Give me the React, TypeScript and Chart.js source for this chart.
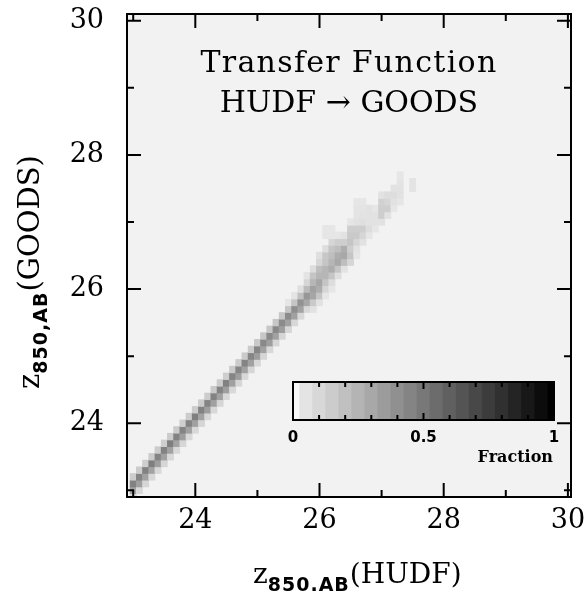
import React, { useEffect, useRef } from 'react';
import { Chart, registerables } from 'chart.js';

Chart.register(...registerables);

// ---- axes ----
const xRange = [22.9, 30.05];
const yRange = [22.9, 30.1];
const xMajorTicks = [24, 26, 28, 30];
const xMinorTicks = [23, 25, 27, 29];
const yMajorTicks = [24, 26, 28, 30];
const yMinorTicks = [23, 25, 27, 29];
const binSize = 0.1;

// ---- transfer-function cells: one column per HUDF magnitude bin ----
const columnCenters = [
  23.0, 23.1, 23.2, 23.3, 23.4, 23.5, 23.6, 23.7, 23.8, 23.9,
  24.0, 24.1, 24.2, 24.3, 24.4, 24.5, 24.6, 24.7, 24.8, 24.9,
  25.0, 25.1, 25.2, 25.3, 25.4, 25.5, 25.6, 25.7, 25.8, 25.9,
  26.0, 26.1, 26.2, 26.3, 26.4, 26.5, 26.6, 26.7, 26.8, 26.9,
  27.0, 27.1, 27.2, 27.3, 27.5,
];
// GOODS magnitude (bin centre) of the lowest cell in each column
const columnFirstRow = [
  22.9, 23.0, 23.1, 23.2, 23.3, 23.4, 23.5, 23.6, 23.7, 23.8,
  23.9, 24.0, 24.1, 24.2, 24.3, 24.4, 24.5, 24.6, 24.7, 24.8,
  24.9, 25.0, 25.1, 25.2, 25.3, 25.4, 25.5, 25.6, 25.7, 25.7,
  25.8, 25.9, 26.0, 26.2, 26.3, 26.4, 26.5, 26.7, 26.8, 26.9,
  27.0, 27.1, 27.2, 27.3, 27.5,
];
// fractions, from the lowest cell upwards
const columnFractions = [
  [0.10, 0.33, 0.46, 0.15],
  [0.10, 0.34, 0.45, 0.15],
  [0.11, 0.33, 0.46, 0.14],
  [0.10, 0.32, 0.47, 0.15],
  [0.10, 0.34, 0.45, 0.15],
  [0.11, 0.33, 0.46, 0.14],
  [0.10, 0.33, 0.47, 0.15],
  [0.10, 0.32, 0.46, 0.16],
  [0.11, 0.34, 0.45, 0.14],
  [0.10, 0.33, 0.46, 0.15],
  [0.10, 0.33, 0.47, 0.15],
  [0.11, 0.32, 0.46, 0.15],
  [0.10, 0.34, 0.45, 0.15],
  [0.10, 0.33, 0.46, 0.16],
  [0.11, 0.33, 0.45, 0.15],
  [0.10, 0.34, 0.46, 0.14],
  [0.10, 0.33, 0.45, 0.16],
  [0.11, 0.34, 0.44, 0.15],
  [0.10, 0.33, 0.45, 0.16],
  [0.11, 0.33, 0.44, 0.16],
  [0.10, 0.34, 0.44, 0.16],
  [0.11, 0.33, 0.43, 0.17],
  [0.10, 0.34, 0.43, 0.17],
  [0.11, 0.33, 0.43, 0.17],
  [0.11, 0.34, 0.42, 0.17],
  [0.11, 0.33, 0.42, 0.18, 0.04],
  [0.10, 0.33, 0.41, 0.18, 0.05],
  [0.10, 0.32, 0.39, 0.20, 0.07],
  [0.10, 0.30, 0.37, 0.22, 0.11, 0.05],
  [0.06, 0.16, 0.31, 0.33, 0.24, 0.18, 0.08],
  [0.06, 0.18, 0.28, 0.31, 0.24, 0.21, 0.11, 0.07],
  [0.04, 0.11, 0.18, 0.24, 0.24, 0.18, 0.17, 0.08, 0, 0.04, 0.04],
  [0.04, 0.08, 0.18, 0.28, 0.24, 0.21, 0.18, 0.11, 0.04, 0.04],
  [0.07, 0.18, 0.30, 0.28, 0.21, 0.14, 0.04],
  [0.06, 0.21, 0.30, 0.28, 0.14, 0.06],
  [0.11, 0.18, 0.14, 0.18, 0.16, 0.14, 0.04],
  [0.04, 0.06, 0.11, 0.16, 0.14, 0.06, 0.05, 0.05, 0.04],
  [0.06, 0.11, 0.14, 0.07, 0.06, 0.05, 0.04],
  [0.04, 0.08, 0.06, 0.06, 0.06],
  [0.04, 0.06, 0.06, 0.04],
  [0.06, 0.14, 0.14, 0.13, 0.06],
  [0.06, 0.14, 0.11, 0.08],
  [0.04, 0.06, 0.08, 0.06],
  [0.04, 0.06, 0.06, 0.05, 0.04],
  [0.05, 0.05],
];

// ---- colour bar ----
const colorbarLevels = [
  0, 0.05, 0.1, 0.15, 0.2, 0.25, 0.3, 0.35, 0.4, 0.45, 0.5,
  0.55, 0.6, 0.65, 0.7, 0.75, 0.8, 0.85, 0.9, 0.95, 1,
];
const colorbarTickMarks = [0.1, 0.2, 0.3, 0.4, 0.5, 0.6, 0.7, 0.8, 0.9];
const colorbarLabels = [0, 0.5, 1];

const PLOT_BG = '#f2f2f2';
const shade = (f: number) => {
  if (f <= 0) return '#f9f9f9';
  const g = Math.round(240 * (1 - f));
  return `rgb(${g},${g},${g})`;
};

const framePlugin = {
  id: 'frame',
  beforeDatasetsDraw(chart: any) {
    const { ctx, chartArea: a } = chart;
    ctx.save();
    ctx.fillStyle = PLOT_BG;
    ctx.fillRect(a.left, a.top, a.right - a.left, a.bottom - a.top);
    ctx.restore();
  },
  afterDatasetsDraw(chart: any) {
    const { ctx, chartArea: a, scales } = chart;
    const { x, y } = scales;
    ctx.save();
    ctx.strokeStyle = '#000';
    ctx.lineWidth = 2;
    ctx.lineCap = 'butt';
    const vtick = (v: number, len: number) => {
      const px = x.getPixelForValue(v);
      ctx.beginPath();
      ctx.moveTo(px, a.bottom); ctx.lineTo(px, a.bottom - len);
      ctx.moveTo(px, a.top); ctx.lineTo(px, a.top + len);
      ctx.stroke();
    };
    const htick = (v: number, len: number) => {
      const py = y.getPixelForValue(v);
      ctx.beginPath();
      ctx.moveTo(a.left, py); ctx.lineTo(a.left + len, py);
      ctx.moveTo(a.right, py); ctx.lineTo(a.right - len, py);
      ctx.stroke();
    };
    xMajorTicks.forEach((v) => vtick(v, 14));
    xMinorTicks.forEach((v) => vtick(v, 7));
    yMajorTicks.forEach((v) => htick(v, 14));
    yMinorTicks.forEach((v) => htick(v, 7));
    ctx.strokeRect(a.left, a.top, a.right - a.left, a.bottom - a.top);
    ctx.restore();
  },
};

const colorbarPlugin = {
  id: 'cbframe',
  afterDatasetsDraw(chart: any) {
    const { ctx, chartArea: a, scales } = chart;
    ctx.save();
    ctx.strokeStyle = '#000';
    ctx.lineWidth = 2;
    colorbarTickMarks.forEach((v) => {
      const px = scales.x.getPixelForValue(v);
      const len = v === 0.5 ? 7 : 5;
      ctx.beginPath();
      ctx.moveTo(px, a.top); ctx.lineTo(px, a.top + len);
      ctx.moveTo(px, a.bottom); ctx.lineTo(px, a.bottom - len);
      ctx.stroke();
    });
    ctx.strokeRect(a.left, a.top, a.right - a.left, a.bottom - a.top);
    ctx.restore();
  },
};

export default function App() {
  const mainRef = useRef<HTMLCanvasElement>(null);
  const cbRef = useRef<HTMLCanvasElement>(null);

  useEffect(() => {
    const cells: any[] = [];
    const colors: string[] = [];
    columnCenters.forEach((cx, i) => {
      columnFractions[i].forEach((f, j) => {
        if (f <= 0) return;
        const yc = Math.round((columnFirstRow[i] + j * binSize) * 10) / 10;
        cells.push({ x: cx, y: [yc - binSize / 2, yc + binSize / 2] });
        colors.push(shade(f));
      });
    });

    const tickFont = { family: 'DejaVu Serif', size: 27 };
    const main = new Chart(mainRef.current!, {
      type: 'bar',
      data: {
        datasets: [
          {
            data: cells,
            backgroundColor: colors,
            borderWidth: 0,
            barPercentage: 1,
            categoryPercentage: 1,
            clip: 0,
          } as any,
        ],
      },
      options: {
        animation: false,
        responsive: false,
        devicePixelRatio: 1,
        layout: { padding: { left: 0, top: 14, right: 15, bottom: 0 } },
        plugins: { legend: { display: false }, tooltip: { enabled: false } },
        scales: {
          x: {
            type: 'linear',
            min: xRange[0],
            max: xRange[1],
            offset: false,
            grid: { display: false, drawTicks: false },
            border: { display: false },
            afterBuildTicks: (s: any) => {
              s.ticks = xMajorTicks.map((v) => ({ value: v }));
            },
            afterFit: (s: any) => {
              s.height = 100;
              s.paddingLeft = 0;
              s.paddingRight = 0;
            },
            ticks: {
              font: tickFont,
              color: '#000',
              padding: 8,
              maxRotation: 0,
              autoSkip: false,
              callback: (v: any) => String(v),
            },
          },
          y: {
            type: 'linear',
            min: yRange[0],
            max: yRange[1],
            beginAtZero: false,
            grid: { display: false, drawTicks: false },
            border: { display: false },
            afterBuildTicks: (s: any) => {
              s.ticks = yMajorTicks.map((v) => ({ value: v }));
            },
            afterFit: (s: any) => {
              s.width = 127;
              s.paddingTop = 0;
              s.paddingBottom = 0;
            },
            ticks: {
              font: tickFont,
              color: '#000',
              padding: 23,
              autoSkip: false,
              callback: (v: any) => String(v),
            },
          },
        },
      } as any,
      plugins: [framePlugin],
    });

    const cb = new Chart(cbRef.current!, {
      type: 'bar',
      data: {
        datasets: [
          {
            data: colorbarLevels.map((v) => ({ x: v, y: [0, 1] })),
            backgroundColor: colorbarLevels.map(shade),
            borderWidth: 0,
            barPercentage: 1,
            categoryPercentage: 1,
            clip: 0,
          } as any,
        ],
      },
      options: {
        animation: false,
        responsive: false,
        devicePixelRatio: 1,
        layout: { padding: { left: 10, top: 10, right: 19, bottom: 0 } },
        plugins: { legend: { display: false }, tooltip: { enabled: false } },
        scales: {
          x: {
            type: 'linear',
            min: 0,
            max: 1,
            offset: false,
            grid: { display: false, drawTicks: false },
            border: { display: false },
            afterBuildTicks: (s: any) => {
              s.ticks = colorbarLabels.map((v) => ({ value: v }));
            },
            afterFit: (s: any) => {
              s.height = 47;
              s.paddingLeft = 0;
              s.paddingRight = 0;
            },
            ticks: {
              font: { family: 'DejaVu Sans', size: 15, weight: 'bold' },
              color: '#000',
              padding: 9,
              maxRotation: 0,
              autoSkip: false,
              callback: (v: any) => String(v),
            },
          },
          y: { type: 'linear', min: 0, max: 1, display: false },
        },
      } as any,
      plugins: [colorbarPlugin],
    });

    return () => {
      main.destroy();
      cb.destroy();
    };
  }, []);

  const serif = "'DejaVu Serif', serif";
  const subStyle: React.CSSProperties = {
    fontFamily: "'DejaVu Sans', sans-serif",
    fontWeight: 'bold',
    fontSize: 19,
    position: 'relative',
    top: 8,
    letterSpacing: 1,
  };

  return (
    <div style={{ position: 'absolute', left: 0, top: 0, width: 586, height: 597, background: '#fff', overflow: 'hidden' }}>
      <canvas ref={mainRef} width={586} height={597} style={{ position: 'absolute', left: 0, top: 0, width: 586, height: 597 }} />
      <canvas ref={cbRef} width={290} height={95} style={{ position: 'absolute', left: 283, top: 372, width: 290, height: 95 }} />
      <div style={{ position: 'absolute', left: 127, width: 444, top: 47, textAlign: 'center', fontFamily: serif, fontSize: 30, lineHeight: '30px', letterSpacing: 1.3, color: '#000', whiteSpace: 'nowrap' }}>
        Transfer Function
      </div>
      <div style={{ position: 'absolute', left: 127, width: 444, top: 87, textAlign: 'center', fontFamily: serif, fontSize: 30, lineHeight: '30px', color: '#000', whiteSpace: 'nowrap' }}>
        HUDF → GOODS
      </div>
      <div style={{ position: 'absolute', left: 253, top: 560, fontFamily: serif, fontSize: 28, lineHeight: '28px', color: '#000', whiteSpace: 'nowrap' }}>
        z<span style={subStyle}>850.AB</span>(HUDF)
      </div>
      <div style={{ position: 'absolute', left: 29 - 170, top: 272 - 14, width: 340, height: 28, textAlign: 'center', transform: 'rotate(-90deg)', transformOrigin: '50% 50%', fontFamily: serif, fontSize: 29, lineHeight: '28px', color: '#000', whiteSpace: 'nowrap' }}>
        z<span style={subStyle}>850,AB</span>(GOODS)
      </div>
      <div style={{ position: 'absolute', left: 440, width: 113, top: 447, textAlign: 'right', fontFamily: serif, fontWeight: 'bold', fontSize: 16, lineHeight: '20px', color: '#000', whiteSpace: 'nowrap' }}>
        Fraction
      </div>
    </div>
  );
}
